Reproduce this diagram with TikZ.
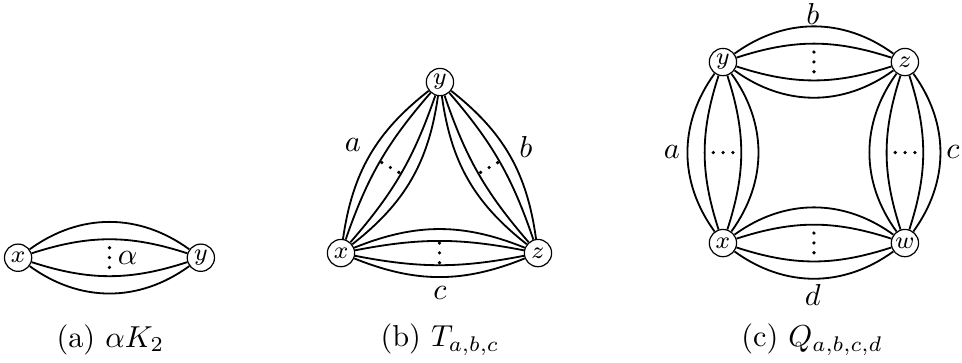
\documentclass[tikz,border=0pt]{standalone}
\usetikzlibrary{calc}
\tikzset{
  vert/.style={circle, draw, thin, inner sep=0pt, minimum size=9pt, font=\footnotesize},
  dotrow/.style={line width=1.2pt, line cap=round, dash pattern=on 0pt off 3.25pt},
}
\begin{document}
\begin{tikzpicture}[semithick]
	\useasboundingbox (0,0) rectangle (11.16,4.2);
	% (a) alpha K_2
	\node[vert] (ax) at (0.21,1.21) {$x$};
	\node[vert] (ay) at (2.33,1.21) {$y$};
	\foreach \b in {-36,-18,18,36}
		\draw (ax) to[bend left=\b] (ay);
	\coordinate (am) at ($(ax)!0.5!(ay)$);
	\draw[dotrow] ($(am)+(0,0.116)$) -- ($(am)+(0,-0.116)$);
	\node[anchor=west, xshift=2.5pt, inner sep=0pt] (alpha) at (am) {$\alpha$};
	\node (capa) at (1.28,0.26) {(a) $\alpha K_2$};
	% (b) T_{a,b,c}
	\node[vert] (bx) at (3.956,1.264) {$x$};
	\node[vert] (by) at (5.104,3.248) {$y$};
	\node[vert] (bz) at (6.241,1.264) {$z$};
	\foreach \u/\v in {bx/by, by/bz, bx/bz}{
		\foreach \b in {-22,-11,11,22}
			\draw (\u) to[bend left=\b] (\v);
		\draw[dotrow] ($(\u)!0.5!(\v)!0.116cm!90:(\v)$) -- ($(\u)!0.5!(\v)!0.116cm!-90:(\v)$);
	}
	\node (la) at (4.095,2.517) {$a$};
	\node (lb) at (6.102,2.494) {$b$};
	\node (lc) at (5.104,0.80) {$c$};
	\node (capb) at (5.104,0.26) {(b) $T_{a,b,c}$};
	% (c) Q_{a,b,c,d}
	\node[vert] (cy) at (8.387,3.48) {$y$};
	\node[vert] (cz) at (10.498,3.48) {$z$};
	\node[vert] (cx) at (8.387,1.38) {$x$};
	\node[vert] (cw) at (10.498,1.38) {$w$};
	\foreach \u/\v in {cy/cz, cz/cw, cx/cw, cy/cx}{
		\foreach \b in {-36,-18,18,36}
			\draw (\u) to[bend left=\b] (\v);
		\draw[dotrow] ($(\u)!0.5!(\v)!0.116cm!90:(\v)$) -- ($(\u)!0.5!(\v)!0.116cm!-90:(\v)$);
	}
	\node (qb) at (9.43,4.037) {$b$};
	\node (qa) at (7.795,2.436) {$a$};
	\node (qc) at (11.055,2.436) {$c$};
	\node (qd) at (9.43,0.777) {$d$};
	\node (capc) at (9.42,0.26) {(c) $Q_{a,b,c,d}$};
\end{tikzpicture}
\end{document}
